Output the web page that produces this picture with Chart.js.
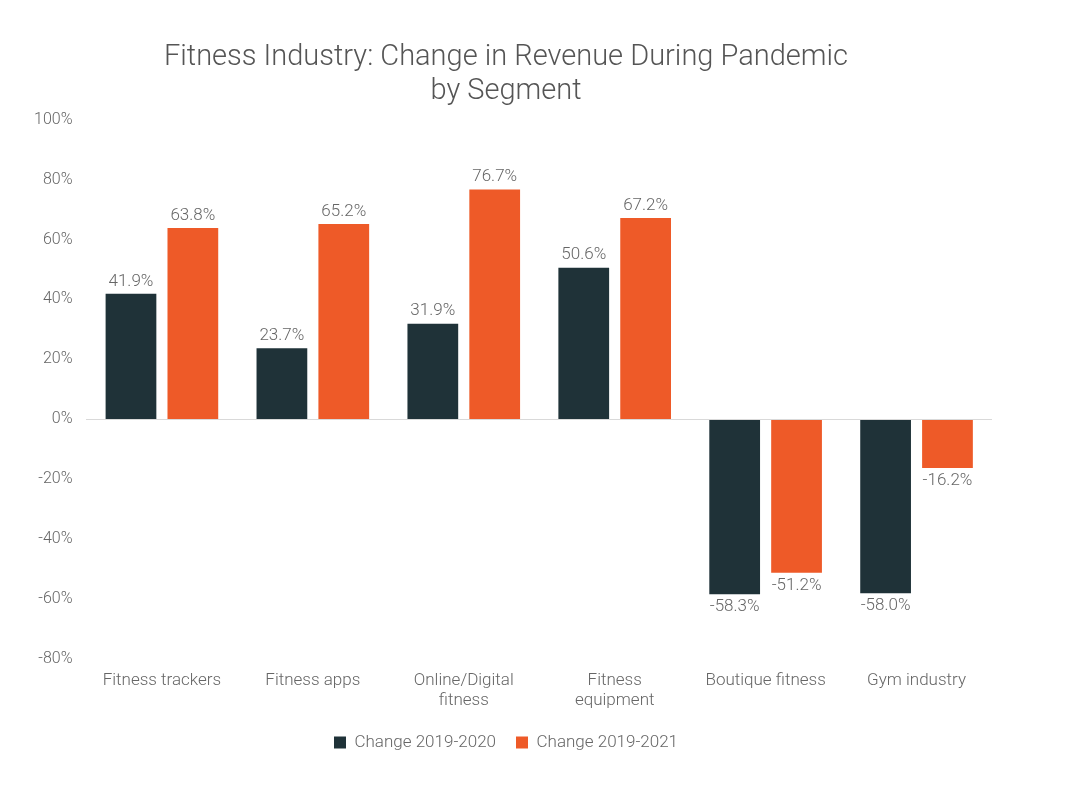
<!DOCTYPE html>
<html><head><meta charset="utf-8">
<script src="https://cdn.jsdelivr.net/npm/chart.js@4"></script>
<style>html,body{margin:0;background:#fff}#w{width:1080px;height:791px}</style>
</head><body><div id="w"><canvas id="c"></canvas></div>
<script>
const categories=[["Fitness trackers"],["Fitness apps"],["Online/Digital","fitness"],["Fitness","equipment"],["Boutique fitness"],["Gym industry"]];
const change2020=[41.9,23.7,31.9,50.6,-58.3,-58.0];
const change2021=[63.8,65.2,76.7,67.2,-51.2,-16.2];
const labelPlugin={id:'lbl',afterDatasetsDraw(ch){const x=ch.ctx;x.save();x.font='300 17px Roboto';x.fillStyle='#666';x.textAlign='center';
ch.data.datasets.forEach((d,i)=>{ch.getDatasetMeta(i).data.forEach((b,j)=>{const v=d.data[j];const t=v.toFixed(1)+'%';
if(v>=0){x.textBaseline='bottom';x.fillText(t,b.x,b.y-4);}else{x.textBaseline='top';x.fillText(t,b.x,b.y+4);}});});x.restore();}};
Chart.defaults.font.family='Roboto';Chart.defaults.font.weight='300';Chart.defaults.color='#666';
new Chart(document.getElementById('c'),{type:'bar',plugins:[labelPlugin],
data:{labels:categories,datasets:[
{label:'Change 2019-2020',data:change2020,backgroundColor:'#1f3238'},
{label:'Change 2019-2021',data:change2021,backgroundColor:'#ee5a28'}]},
options:{responsive:true,maintainAspectRatio:false,animation:false,
layout:{padding:{left:20,right:88,top:20,bottom:30}},
categoryPercentage:0.82,barPercentage:0.82,
plugins:{title:{display:true,text:['Fitness Industry: Change in Revenue During Pandemic','by Segment'],font:{size:29,weight:'300'},color:'#555',padding:{top:20,bottom:10},lineHeight:1.1},
legend:{position:'bottom',labels:{boxWidth:12,boxHeight:12,font:{size:17},padding:20}},tooltip:{enabled:false}},
scales:{x:{grid:{display:false},border:{display:false},ticks:{font:{size:17},maxRotation:0,autoSkip:false}},
y:{min:-80,max:100,ticks:{stepSize:20,font:{size:16},callback:v=>v+'%',padding:14},border:{display:false},
grid:{color:c=>c.tick.value===0?'#d9d9d9':'transparent',drawTicks:false}}}}});
</script></body></html>
